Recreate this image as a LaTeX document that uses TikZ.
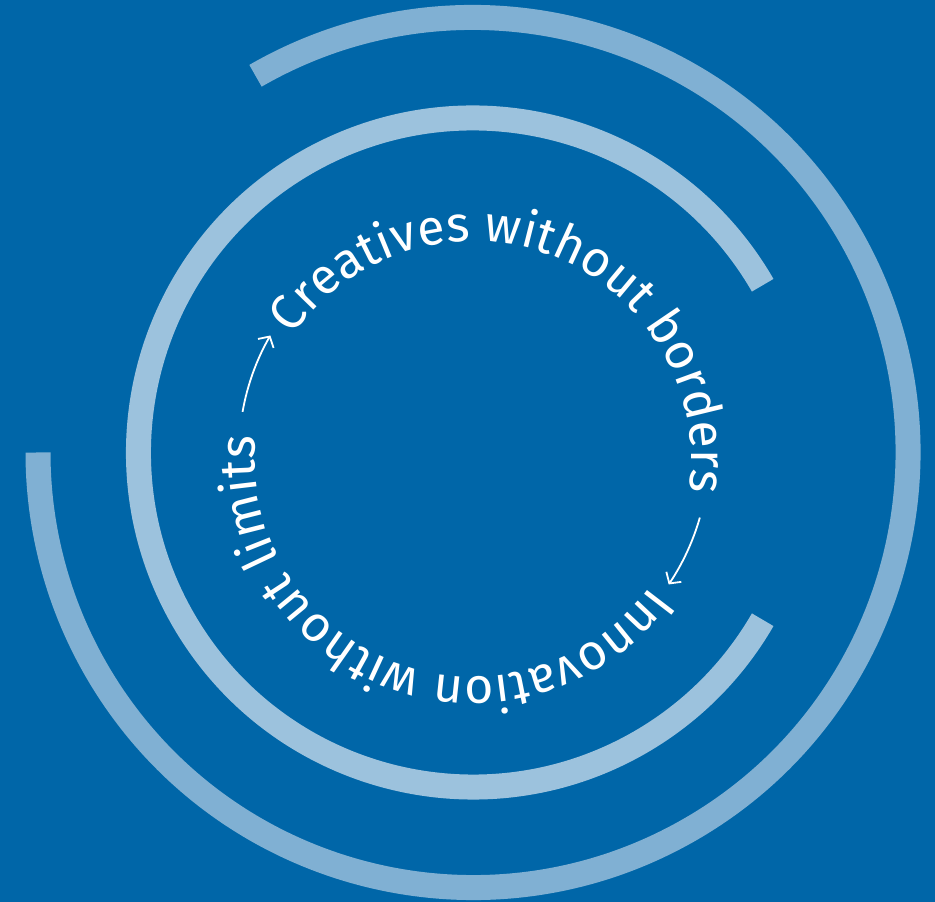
\documentclass[tikz,border=0pt]{standalone}
\usepackage{fontspec}
\setmainfont{Fira Sans}
\usetikzlibrary{decorations.text,arrows.meta}
\definecolor{bgblue}{HTML}{0066A8}
\definecolor{innerring}{HTML}{9CC2DD}
\definecolor{outerring}{HTML}{80B0D3}
\newcommand{\ringtextfont}{\fontsize{50}{56}\selectfont}
\begin{document}
\begin{tikzpicture}[
  ring/.style={line width=25pt},
  flowarrow/.style={draw=white, line width=1.8pt, -{Straight Barb[length=8pt,width=18pt]}}
]
\useasboundingbox (0pt,0pt) rectangle (935pt,902pt);
\fill[bgblue] (0pt,0pt) rectangle (935pt,902pt);
\coordinate (c) at (473pt,449.5pt);
\coordinate (tc) at (473pt,443pt);
% rings
\draw[ring, innerring] ([shift={(30:334.5pt)}]c) arc[start angle=30,end angle=330,radius=334.5pt];
\draw[ring, outerring] ([shift={(120:435pt)}]c) arc[start angle=120,end angle=-180,radius=435pt];
% texts
\path[decorate, decoration={text along path, text align=center, text color=white,
  text={|\ringtextfont|Creatives without borders}}]
  ([shift={(153.5:218pt)}]tc) arc[start angle=153.5,end angle=-16.5,radius=218pt];
\path[decorate, decoration={text along path, text align=center, text color=white,
  text={|\ringtextfont|Innovation without limits}}]
  ([shift={(-25.8:218pt)}]tc) arc[start angle=-25.8,end angle=-195.8,radius=218pt];
% arrows
\draw[flowarrow] ([shift={(170:234pt)}]c) arc[start angle=170,end angle=150,radius=234pt];
\draw[flowarrow] ([shift={(-16:236pt)}]c) arc[start angle=-16,end angle=-34,radius=236pt];
\end{tikzpicture}
\end{document}
